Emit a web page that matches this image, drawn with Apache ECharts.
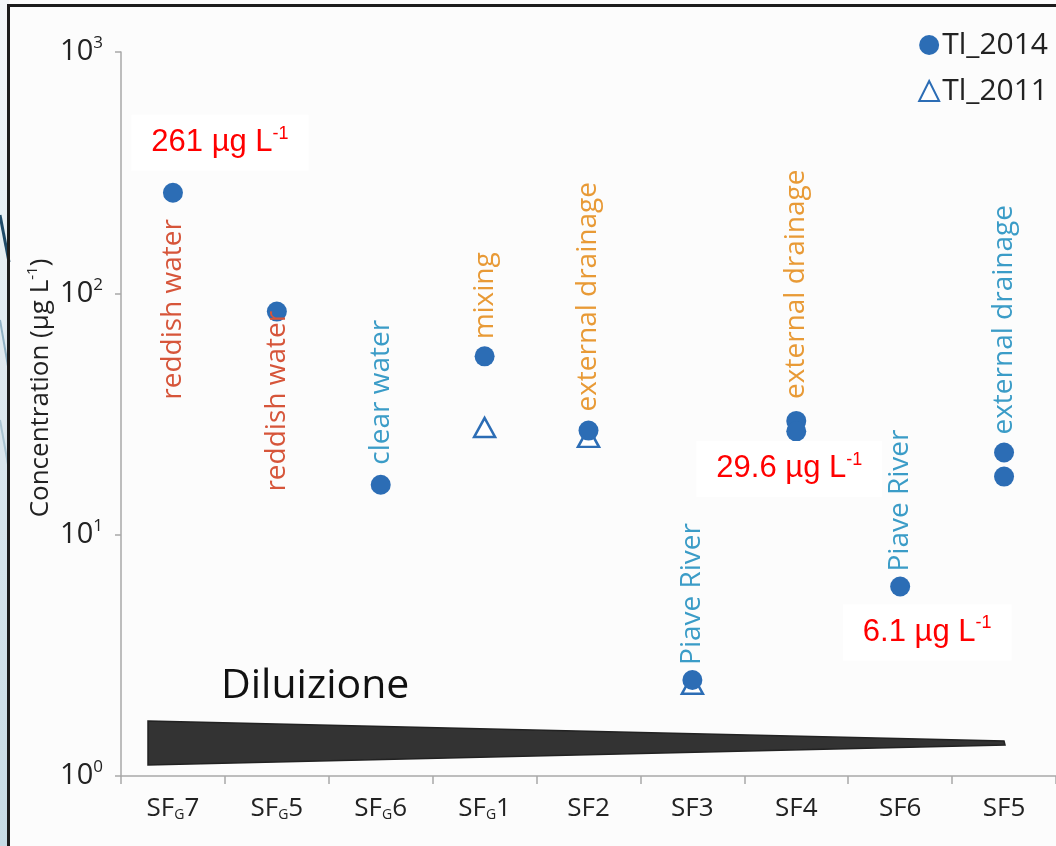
<!DOCTYPE html>
<html>
<head>
<meta charset="utf-8">
<script src="https://cdn.jsdelivr.net/npm/echarts@6/dist/echarts.min.js"></script>
<style>
  html, body { margin: 0; padding: 0; background: #ffffff; }
  #chart { width: 1056px; height: 846px; }
</style>
</head>
<body>
<div id="chart"></div>
<script>
// Sampling stations (a "_G" marks the subscript G in the station code)
const categories = ['SF_G7', 'SF_G5', 'SF_G6', 'SF_G1', 'SF2', 'SF3', 'SF4', 'SF6', 'SF5'];

// Thallium concentration, µg L-1
const tl2014 = [261, 84, 16.1, 54.8, 27.0, 2.5, 29.6, 6.1, 21.9];
const tl2014Second = [null, null, null, null, null, null, 26.8, null, 17.4];
const tl2011 = [null, null, null, 27.8, 25.3, 2.4, null, null, null];

// Water type noted beside each station
const siteNotes = ['reddish water', 'reddish water', 'clear water', 'mixing', 'external drainage',
                   'Piave River', 'external drainage', 'Piave River', 'external drainage'];
const noteKinds = ['red', 'red', 'blue', 'orange', 'orange', 'blue', 'orange', 'blue', 'blue'];

// Stations whose 2014 value is called out in red
const calloutStations = ['SF_G7', 'SF4', 'SF6'];

const yTicks = [1, 10, 100, 1000];
const seriesNames = ['Tl_2014', 'Tl_2011'];

const BLUE = '#2c6db5';
const noteColor = { red: '#d6553a', blue: '#3b9cc7', orange: '#e89a36' };
const FONT = '"Open Sans", "DejaVu Sans", sans-serif';
const ARIAL = '"Liberation Sans", Arial, sans-serif';

const toSeries = arr => arr.map(v => (v == null ? '-' : v));

const chart = echarts.init(document.getElementById('chart'), null, { renderer: 'canvas' });

chart.setOption({
  backgroundColor: '#fcfcfc',
  animation: false,
  grid: { left: 121, right: 0, top: 52, bottom: 70, containLabel: false },
  legend: {
    orient: 'vertical',
    right: 8,
    top: 30,
    padding: 0,
    itemWidth: 20,
    itemHeight: 20,
    itemGap: 16,
    textStyle: { fontFamily: FONT, fontSize: 30, color: '#222', padding: [0, 0, 0, -2] },
    data: [
      { name: seriesNames[0], icon: 'circle' },
      { name: seriesNames[1], icon: 'triangle' }
    ]
  },
  xAxis: {
    type: 'category',
    data: categories,
    boundaryGap: true,
    axisLine: { lineStyle: { color: '#a8a8a8', width: 1.5 } },
    axisTick: { show: true, length: 8, lineStyle: { color: '#a8a8a8', width: 1.5 } },
    splitLine: { show: false },
    axisLabel: {
      interval: 0,
      margin: 17,
      fontFamily: FONT,
      fontSize: 26,
      color: '#222',
      formatter: v => {
        const m = /^SF_G(\d+)$/.exec(v);
        return m ? '{a|SF}{g|G}{a|' + m[1] + '}' : '{a|' + v + '}';
      },
      rich: {
        a: { fontFamily: FONT, fontSize: 26, color: '#222', lineHeight: 32 },
        g: { fontFamily: FONT, fontSize: 14, color: '#222', lineHeight: 14, verticalAlign: 'bottom', padding: [0, 0, 3, 0] }
      }
    }
  },
  yAxis: {
    type: 'log',
    logBase: 10,
    min: yTicks[0],
    max: yTicks[yTicks.length - 1],
    axisLine: { show: true, lineStyle: { color: '#a8a8a8', width: 1.5 } },
    axisTick: { show: true, length: 6, lineStyle: { color: '#a8a8a8', width: 1.5 } },
    splitLine: { show: false },
    axisLabel: {
      margin: 18,
      fontFamily: FONT,
      fontSize: 29,
      formatter: v => '{b|10}{e|' + Math.round(Math.log10(v)) + '}',
      rich: {
        b: { fontFamily: FONT, fontSize: 29, color: '#222', lineHeight: 34 },
        e: { fontFamily: FONT, fontSize: 17, color: '#222', lineHeight: 17, verticalAlign: 'top' }
      }
    }
  },
  series: [
    {
      name: seriesNames[1],
      type: 'scatter',
      z: 2,
      symbol: 'triangle',
      symbolSize: [21, 19],
      itemStyle: { color: '#ffffff', borderColor: BLUE, borderWidth: 2.5, opacity: 1 },
      data: toSeries(tl2011)
    },
    {
      name: seriesNames[0],
      type: 'scatter',
      z: 3,
      symbol: 'circle',
      symbolSize: 20,
      itemStyle: { color: BLUE, opacity: 1 },
      data: toSeries(tl2014)
    },
    {
      name: seriesNames[0],
      type: 'scatter',
      z: 3,
      symbol: 'circle',
      symbolSize: 20,
      itemStyle: { color: BLUE, opacity: 1 },
      data: toSeries(tl2014Second)
    }
  ]
});

// Place the notes, callouts and decorations from the axis scales
function px(i, v) {
  return chart.convertToPixel({ gridIndex: 0 }, [categories[i], v]);
}

const graphics = [];

// slide backdrop on the left edge
graphics.push({
  type: 'rect', z: 0, silent: true,
  shape: { x: 0, y: 0, width: 9, height: 846 },
  style: {
    fill: new echarts.graphic.LinearGradient(0, 0, 0, 1, [
      { offset: 0, color: '#f4f7f9' }, { offset: 0.5, color: '#dbe7ee' }, { offset: 1, color: '#c7dbe5' }
    ])
  }
});
graphics.push({
  type: 'polyline', z: 1, silent: true,
  shape: { points: [[0, 215], [9, 262]] },
  style: { stroke: '#1f4a68', lineWidth: 3, fill: null }
});
graphics.push({
  type: 'polyline', z: 1, silent: true,
  shape: { points: [[0, 320], [9, 372]] },
  style: { stroke: '#8fb0c3', lineWidth: 2, fill: null }
});
graphics.push({
  type: 'polyline', z: 1, silent: true,
  shape: { points: [[0, 420], [9, 470]] },
  style: { stroke: '#a9c4d2', lineWidth: 2, fill: null }
});
// frame
graphics.push({
  type: 'rect', z: 50, silent: true,
  shape: { x: 8.5, y: 5.5, width: 1060, height: 850 },
  style: { stroke: '#1c1c1c', lineWidth: 3, fill: null }
});

// y axis title
graphics.push({
  type: 'text', z: 10, silent: true,
  x: 41, y: 388, rotation: Math.PI / 2,
  style: {
    text: '{t|Concentration (µg L}{s|-1}{t|)}',
    align: 'center', verticalAlign: 'middle',
    rich: {
      t: { fontFamily: FONT, fontSize: 26, fill: '#222', lineHeight: 32 },
      s: { fontFamily: FONT, fontSize: 15, fill: '#222', lineHeight: 15, verticalAlign: 'top' }
    }
  }
});

// dilution wedge
graphics.push({
  type: 'polygon', z: 5, silent: true,
  shape: { points: [[148, 721], [1004, 741], [1005, 745], [148, 765]] },
  style: { fill: '#333333', stroke: '#222222', lineWidth: 1.5 }
});
graphics.push({
  type: 'text', z: 5, silent: true,
  x: 221, y: 686,
  style: { text: 'Diluizione', fontFamily: FONT, fontSize: 41, fill: '#111', align: 'left', verticalAlign: 'middle' }
});

// water-type notes, written bottom-to-top next to each station
const noteShift = [207, 180, -20, -17, -19, -15, -22, -15, -18];
categories.forEach((c, i) => {
  const vals = [tl2014[i], tl2014Second[i], tl2011[i]].filter(v => v != null);
  const top = Math.max.apply(null, vals);
  const p = px(i, top);
  graphics.push({
    type: 'text', z: 6, silent: true,
    x: p[0], y: p[1] + noteShift[i], rotation: Math.PI / 2,
    style: {
      text: siteNotes[i], fontFamily: FONT, fontSize: 28,
      fill: noteColor[noteKinds[i]], align: 'left', verticalAlign: 'middle'
    }
  });
});

// red value callouts
const calloutOffset = [[47, -50], [-7, 48], [27, 46]];
calloutStations.forEach((c, k) => {
  const i = categories.indexOf(c);
  const v = tl2014[i];
  const p = px(i, v);
  graphics.push({
    type: 'text', z: 8, silent: true,
    x: p[0] + calloutOffset[k][0], y: p[1] + calloutOffset[k][1],
    style: {
      text: '{v|' + v + ' µg L}{s|-1}',
      align: 'center', verticalAlign: 'middle',
      backgroundColor: '#ffffff',
      padding: [10, 20, 10, 20],
      rich: {
        v: { fontFamily: ARIAL, fontSize: 31, fill: '#ff0000', lineHeight: 36 },
        s: { fontFamily: ARIAL, fontSize: 18, fill: '#ff0000', lineHeight: 18, verticalAlign: 'top' }
      }
    }
  });
});

chart.setOption({ graphic: graphics });
</script>
</body>
</html>
